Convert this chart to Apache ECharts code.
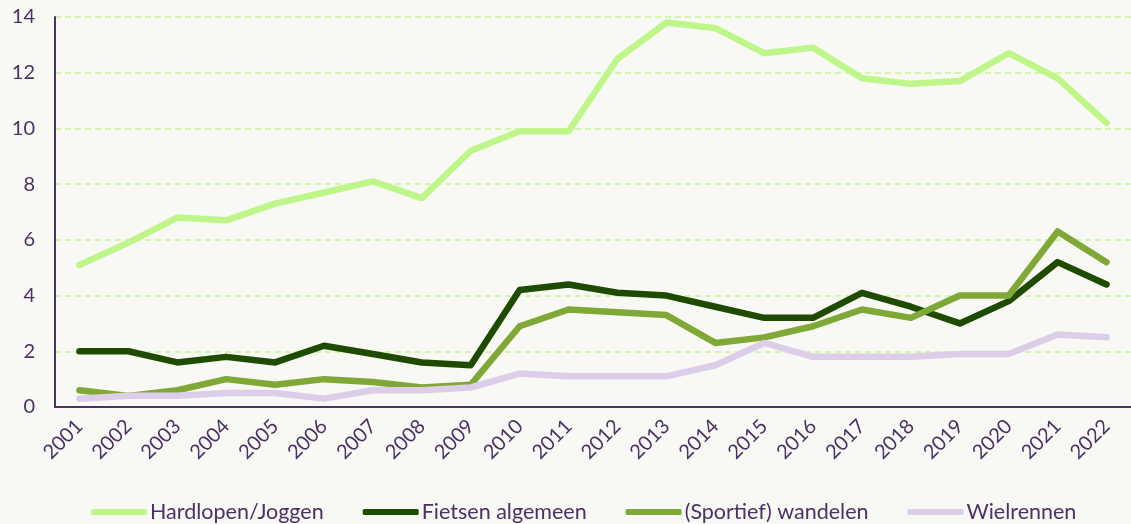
<!DOCTYPE html>
<html>
<head>
<meta charset="utf-8">
<script src="https://cdn.jsdelivr.net/npm/echarts@6/dist/echarts.min.js"></script>
<style>
  html, body { margin: 0; padding: 0; background: #f8f9f4; }
  #main { width: 1131px; height: 524px; }
</style>
</head>
<body>
<div id="main"></div>
<script>
  // jaren en percentages
  var years = ['2001','2002','2003','2004','2005','2006','2007','2008','2009','2010','2011',
               '2012','2013','2014','2015','2016','2017','2018','2019','2020','2021','2022'];
  var hardlopen  = [5.1, 5.9, 6.8, 6.7, 7.3, 7.7, 8.1, 7.5, 9.2, 9.9, 9.9, 12.5, 13.8, 13.6, 12.7, 12.9, 11.8, 11.6, 11.7, 12.7, 11.8, 10.2];
  var fietsen    = [2.0, 2.0, 1.6, 1.8, 1.6, 2.2, 1.9, 1.6, 1.5, 4.2, 4.4, 4.1, 4.0, 3.6, 3.2, 3.2, 4.1, 3.6, 3.0, 3.8, 5.2, 4.4];
  var wandelen   = [0.6, 0.4, 0.6, 1.0, 0.8, 1.0, 0.9, 0.7, 0.8, 2.9, 3.5, 3.4, 3.3, 2.3, 2.5, 2.9, 3.5, 3.2, 4.0, 4.0, 6.3, 5.2];
  var wielrennen = [0.3, 0.4, 0.4, 0.5, 0.5, 0.3, 0.6, 0.6, 0.7, 1.2, 1.1, 1.1, 1.1, 1.5, 2.3, 1.8, 1.8, 1.8, 1.9, 1.9, 2.6, 2.5];
  var yTicks = [0, 2, 4, 6, 8, 10, 12, 14];

  var purple = '#4b3164';
  var font = 'Lato';

  function line(name, data, color) {
    return {
      name: name,
      type: 'line',
      data: data,
      symbol: 'none',
      lineStyle: { color: color, width: 6.5, cap: 'round', join: 'round' },
      itemStyle: { color: color }
    };
  }

  var chart = echarts.init(document.getElementById('main'));
  chart.setOption({
    backgroundColor: '#f8f9f4',
    animation: false,
    textStyle: { fontFamily: font },
    grid: { left: 55, right: -6, top: 17, bottom: 117, containLabel: false },
    legend: {
      top: 496,
      left: 86,
      itemWidth: 56,
      itemHeight: 6,
      itemGap: 39,
      icon: 'roundRect',
      textStyle: { color: purple, fontSize: 21.5, fontFamily: font, padding: [0, 0, 0, -2] },
      data: ['Hardlopen/Joggen', 'Fietsen algemeen', '(Sportief) wandelen', 'Wielrennen']
    },
    xAxis: {
      type: 'category',
      data: years,
      boundaryGap: true,
      axisLine: { lineStyle: { color: purple, width: 2 } },
      axisTick: { show: false },
      axisLabel: { color: purple, fontSize: 20, rotate: 45, margin: 16, interval: 0 }
    },
    yAxis: {
      type: 'value',
      min: yTicks[0],
      max: yTicks[yTicks.length - 1],
      interval: 2,
      axisLine: { show: true, lineStyle: { color: purple, width: 2 } },
      axisTick: { show: false },
      axisLabel: { color: purple, fontSize: 20, margin: 20 },
      splitLine: { lineStyle: { color: '#c5f592', type: [6, 4], width: 1.5 } }
    },
    series: [
      line('Hardlopen/Joggen', hardlopen, '#bff68a'),
      line('Fietsen algemeen', fietsen, '#1f4b00'),
      line('(Sportief) wandelen', wandelen, '#80a837'),
      line('Wielrennen', wielrennen, '#dccde8')
    ]
  });
</script>
</body>
</html>
